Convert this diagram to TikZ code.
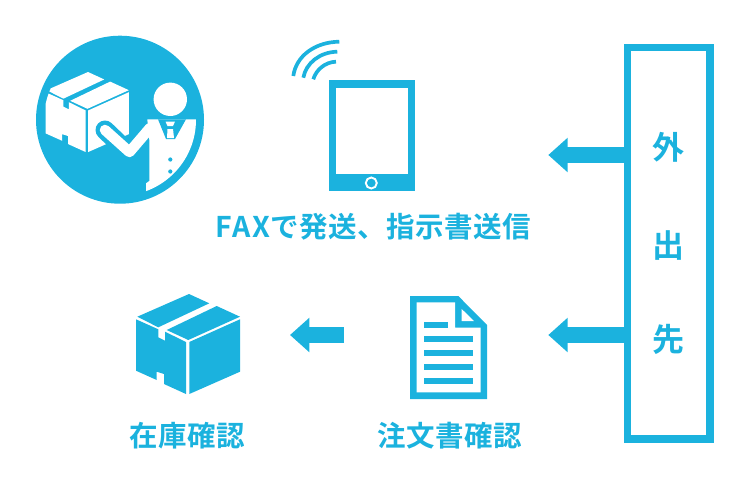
\documentclass[tikz,border=0pt]{standalone}
\usepackage{fontspec}
\usetikzlibrary{arrows.meta}
\newfontfamily\jpbold[LetterSpace=2]{Noto Sans CJK JP Bold}
\newfontfamily\jplatin[LetterSpace=6]{Noto Sans CJK JP Bold}
\newfontfamily\jpside{Noto Sans CJK JP Bold}
\definecolor{brand}{HTML}{1BB2DE}
\newcommand{\cartonfaces}{%
  \fill (137.3,316.7) -- (189,294) -- (209.3,303.3) -- (158.3,327.3) -- cycle;
  \fill (216.7,306) -- (240,316.7) -- (188.3,340) -- (166.7,330) -- cycle;
  \fill (136,319.3) -- (158.3,329.3) -- (158.3,337.3) -- (165,340.7) -- (165,331.7) -- (186,342) -- (186,394) -- (164,384) -- (164,374) -- (156.7,371.7) -- (156.7,380) -- (136,370.7) -- cycle;
  \fill (189.3,342) -- (240,319.3) -- (240,371.7) -- (189.3,394) -- cycle;
}
\tikzset{
  x=1pt,y=-1pt,
  label text/.style={text=brand,font=\jpbold\fontsize{28.5pt}{30pt}\selectfont,inner sep=0pt,outer sep=0pt},
  side text/.style={text=brand,font=\jpside\fontsize{32pt}{34pt}\selectfont,inner sep=0pt},
  block arrow/.style={draw=brand,line width=16.67pt,-{Triangle[length=19.4pt,width=33.4pt,fill=brand]}},
  wifi arc/.style={draw=brand,line width=3.7pt},
  doc line/.style={fill=brand},
}
\begin{document}
\begin{tikzpicture}
\useasboundingbox (0,0) rectangle (750,488);
% round badge
\node[circle,fill=brand,minimum size=168pt,inner sep=0pt,outer sep=0pt] (badge) at (120,119.7) {};
\begin{scope}
  \clip (badge.center) circle (76pt);
  \begin{scope}[fill=white,shift={(88,72)},scale=.8,shift={(-189,-294)}]
    \cartonfaces
  \end{scope}
  \draw[brand,line width=19pt,line cap=round] (105,130) -- (129,153);
  \fill[white] (147.3,119.3) -- (196,119.3) -- (200,200) -- (146,200) -- (146,183.3) -- (149.3,181) -- (149.3,140) -- cycle;
  \draw[white,line width=10.5pt,line cap=round,line join=round] (105,130) -- (129.5,152) -- (150,128);
  \fill[brand] (158,119.3) -- (186,119.3) -- (175,139) -- (166,139) -- cycle;
  \fill[white] (165.5,121.5) -- (175,121.5) -- (173,126) -- (167.5,126) -- cycle;
  \fill[white] (167.5,129) -- (173,129) -- (174,138) -- (167,138) -- cycle;
  \fill[brand] (170.3,159.5) circle (2.1pt) (170.3,171.5) circle (2.1pt);
\end{scope}
\node[circle,fill=white,minimum size=33.4pt,inner sep=0pt] (head) at (170.3,99.3) {};
% tablet
\node[rectangle,fill=brand,minimum width=86pt,minimum height=111pt,inner sep=0pt,outer sep=0pt] (tablet) at (372,135.5) {};
\fill[white] (336,87.7) rectangle (408,174);
\node[circle,draw=white,fill=brand,line width=1.9pt,minimum size=11pt,inner sep=0pt] (homebtn) at (371.3,183) {};
\draw[wifi arc] (293.3,76) .. controls (296,56) and (315,42) .. (339.3,41.7);
\draw[wifi arc] (303.3,77.7) .. controls (306,63) and (320,52) .. (337.3,51.7);
\draw[wifi arc] (313.3,79.3) .. controls (316,70) and (325,62) .. (336,61.7);
\node[label text,anchor=center] (faxlabel) at (373.5,227) {{\jplatin\fontsize{28.5pt}{30pt}\selectfont FAX}で発送、指示書送信};
% side box
\node[rectangle,draw=brand,line width=7.7pt,minimum width=82.6pt,minimum height=391.3pt,inner sep=0pt,outer sep=0pt,anchor=north west] (sidebox) at (627.5,47.5) {};
\node[side text] (c1) at (668,147) {外};
\node[side text] (c2) at (668,246) {出};
\node[side text] (c3) at (668,339) {先};
% document
\fill[brand] (410,296) -- (458.3,296) -- (487,325) -- (487,399) -- (410,399) -- cycle;
\fill[white] (416.7,302.3) -- (455,302.3) -- (455,327.7) -- (480.7,327.7) -- (480.7,392.3) -- (416.7,392.3) -- cycle;
\fill[white] (461.7,309) -- (461.7,321) -- (474,321) -- cycle;
\fill[doc line] (424,321.7) rectangle (448.3,327.7);
\fill[doc line] (424,335.7) rectangle (472.7,341.7);
\fill[doc line] (424,350) rectangle (472.7,356);
\fill[doc line] (424,364) rectangle (472.7,370);
\fill[doc line] (424,378.3) rectangle (472.7,384.3);
\node[label text] (doclabel) at (450,436) {注文書確認};
% carton
\begin{scope}[fill=brand]
  \cartonfaces
\end{scope}
\node[label text] (stocklabel) at (187,436) {在庫確認};
% arrows
\coordinate (tipone) at (548.3,155);
\coordinate (tiptwo) at (548.3,335);
\coordinate (tipthree) at (290,335);
\coordinate (tailthree) at (344,335);
\draw[block arrow] (sidebox.west |- tipone) -- (tipone);
\draw[block arrow] (sidebox.west |- tiptwo) -- (tiptwo);
\draw[block arrow] (tailthree) -- (tipthree);
\end{tikzpicture}
\end{document}
